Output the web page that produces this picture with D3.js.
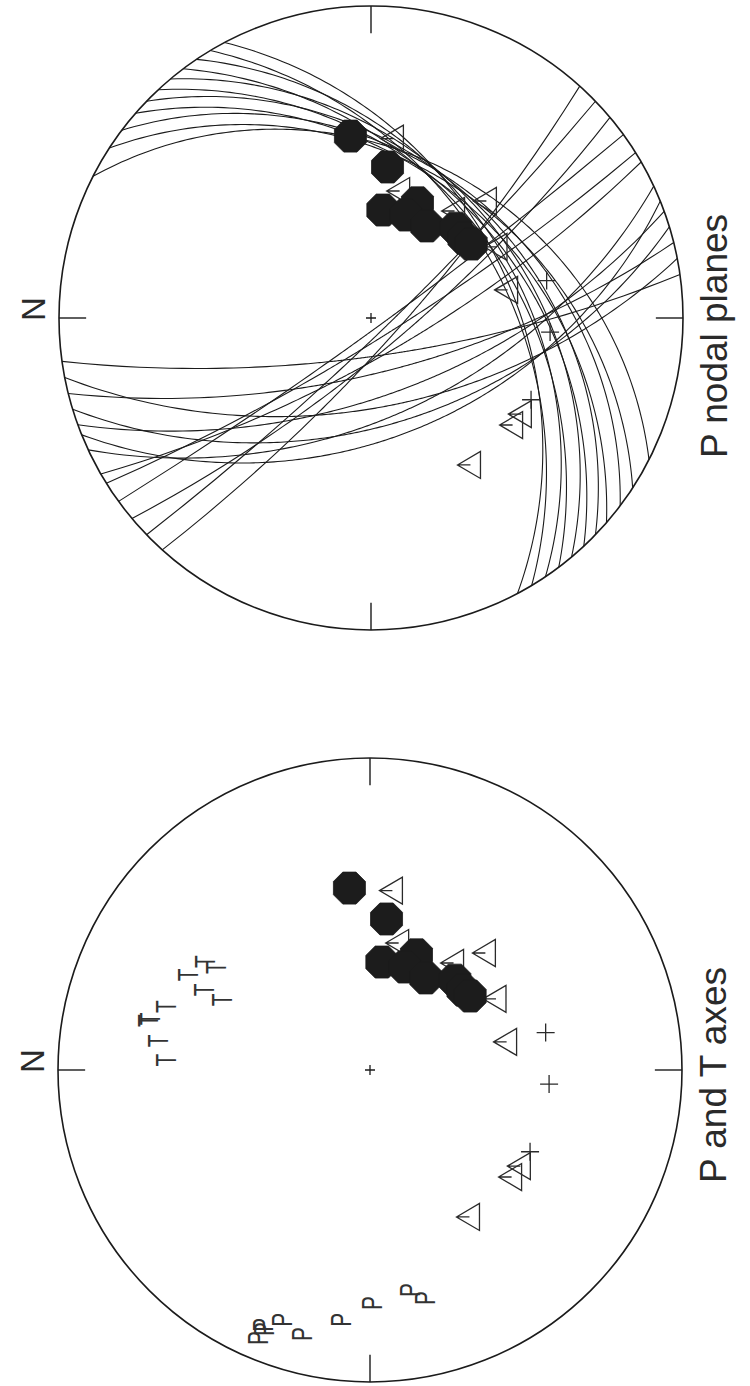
<!DOCTYPE html>
<html>
<head>
<meta charset="utf-8">
<script src="https://cdn.jsdelivr.net/npm/d3@7"></script>
<style>
  html, body { margin: 0; padding: 0; background: #fff; }
  svg { display: block; }
</style>
</head>
<body>
<svg id="chart" width="750" height="1386"></svg>
<script>
// Positions on the lower-hemisphere net: [east, north] in units of the net radius.
const compressions = [
  [0.583, 0.066], [0.484, -0.053], [0.346, -0.038], [0.369, -0.149],
  [0.330, -0.112], [0.295, -0.179], [0.288, -0.272], [0.256, -0.298],
  [0.237, -0.321]
];
const dilatations = [
  [0.575, -0.067], [0.407, -0.087], [0.375, -0.365], [0.343, -0.263],
  [0.228, -0.399], [0.090, -0.433], [-0.308, -0.477], [-0.343, -0.449],
  [-0.471, -0.314]
];
const nodalReadings = [[0.120, -0.563], [-0.045, -0.574], [-0.262, -0.513]];

// Nodal planes: strike and dip in degrees (right-hand rule).
const planeStrikes = [27, 33, 37, 41, 44, 47, 50, 53, 56, 59, 62,
                      132, 136, 140, 144, 148, 150,
                      155, 158, 160, 163, 166, 169, 172];
const planeDips    = [34, 37, 36, 39, 37, 40, 38, 42, 40, 44, 42,
                      80, 84, 78, 86, 82, 76,
                      55, 48, 62, 52, 70, 58, 76];

// Tension and pressure axes.
const tAxes = [
  [0.032, 0.656], [0.093, 0.682], [0.158, 0.714], [0.164, 0.707],
  [0.203, 0.656], [0.225, 0.476], [0.257, 0.534], [0.305, 0.585],
  [0.347, 0.531], [0.328, 0.495]
];
const pAxes = [
  [-0.859, 0.362], [-0.817, 0.346], [-0.830, 0.340], [-0.801, 0.282],
  [-0.846, 0.218], [-0.801, 0.096], [-0.747, -0.006], [-0.705, -0.128],
  [-0.731, -0.176]
];

const panelTitles = ["P nodal planes", "P and T axes"];
const northLabel = "N";

const R = 312;
const rad = Math.PI / 180;
const ink = "#1b1b1b";

const x = d3.scaleLinear().domain([-1, 1]).range([-R, R]);
const y = d3.scaleLinear().domain([-1, 1]).range([R, -R]);

const svg = d3.select("#chart");

const panels = [
  { cx: 371, cy: 318, title: panelTitles[0], titleShift: -18, planes: true,  axes: false },
  { cx: 370, cy: 1070, title: panelTitles[1], titleShift: -5, planes: false, axes: true }
];

// stereographic trace of a plane
function planePoints(strike, dip) {
  return d3.range(0, 180.01, 1).map(a => {
    const t = (strike + a) * rad;
    const p = Math.atan(Math.tan(dip * rad) * Math.sin(a * rad));
    const rho = Math.tan((Math.PI / 2 - p) / 2);
    return [rho * Math.sin(t), rho * Math.cos(t)];
  });
}
const line = d3.line().x(d => x(d[0])).y(d => y(d[1]));

const octR = 16 / Math.cos(22.5 * rad);
const octagon = "M" + d3.range(8).map(k => {
  const a = (22.5 + 45 * k) * rad;
  return [octR * Math.cos(a), octR * Math.sin(a)].join(",");
}).join("L") + "Z";
const triangle = "M0,-11.5L13.5,11.5L-13.5,11.5Z M0,-11.5L0,1.5";

panels.forEach(pn => {
  const g = svg.append("g")
    .attr("transform", `translate(${pn.cx},${pn.cy}) rotate(-90)`);

  // primitive circle
  g.append("circle").attr("r", R)
    .attr("fill", "none").attr("stroke", ink).attr("stroke-width", 1.6);

  // cardinal ticks
  [[0, 1], [1, 0], [0, -1], [-1, 0]].forEach(([e, n]) => {
    g.append("line")
      .attr("x1", x(e)).attr("y1", y(n))
      .attr("x2", x(e * 0.913)).attr("y2", y(n * 0.913))
      .attr("stroke", ink).attr("stroke-width", 1.4);
  });

  // centre mark
  g.append("path").attr("d", "M-5,0H5M0,-5V5")
    .attr("stroke", ink).attr("stroke-width", 1.3);

  g.append("text")
    .attr("x", 9).attr("y", -326)
    .attr("text-anchor", "middle")
    .attr("font-family", "Liberation Sans, Arial, sans-serif")
    .attr("font-size", 33)
    .attr("fill", "#2a2a2a")
    .text(northLabel);

  g.append("text")
    .attr("x", pn.titleShift).attr("y", 356)
    .attr("text-anchor", "middle")
    .attr("font-family", "Liberation Sans, Arial, sans-serif")
    .attr("font-size", 37)
    .attr("fill", "#2a2a2a")
    .text(pn.title);

  if (pn.planes) {
    g.append("g").selectAll("path")
      .data(d3.zip(planeStrikes, planeDips))
      .join("path")
      .attr("d", d => line(planePoints(d[0], d[1])))
      .attr("fill", "none").attr("stroke", ink).attr("stroke-width", 1.1);
  }

  // dilatations
  g.append("g").selectAll("path")
    .data(dilatations).join("path")
    .attr("transform", d => `translate(${x(d[0])},${y(d[1])})`)
    .attr("d", triangle)
    .attr("fill", "none").attr("stroke", "#2a2a2a").attr("stroke-width", 1.3);

  // weak readings
  g.append("g").selectAll("path")
    .data(nodalReadings).join("path")
    .attr("transform", d => `translate(${x(d[0])},${y(d[1])})`)
    .attr("d", "M-9,0H9M0,-9V9")
    .attr("fill", "none").attr("stroke", "#2a2a2a").attr("stroke-width", 1.3);

  // compressions
  g.append("g").selectAll("path")
    .data(compressions).join("path")
    .attr("transform", d => `translate(${x(d[0])},${y(d[1])})`)
    .attr("d", octagon)
    .attr("fill", "#1c1c1c").attr("stroke", "#1c1c1c").attr("stroke-width", 0.8);

  if (pn.axes) {
    const letters = [["T", tAxes], ["P", pAxes]];
    letters.forEach(([ch, pts]) => {
      g.append("g").selectAll("text")
        .data(pts).join("text")
        .attr("transform", d => `translate(${x(d[0])},${y(d[1])}) scale(0.72,1)`)
        .attr("text-anchor", "middle")
        .attr("dy", "0.36em")
        .attr("font-family", "Liberation Sans, Arial, sans-serif")
        .attr("font-size", 29)
        .attr("fill", "#333")
        .text(ch);
    });
  }
});
</script>
</body>
</html>
